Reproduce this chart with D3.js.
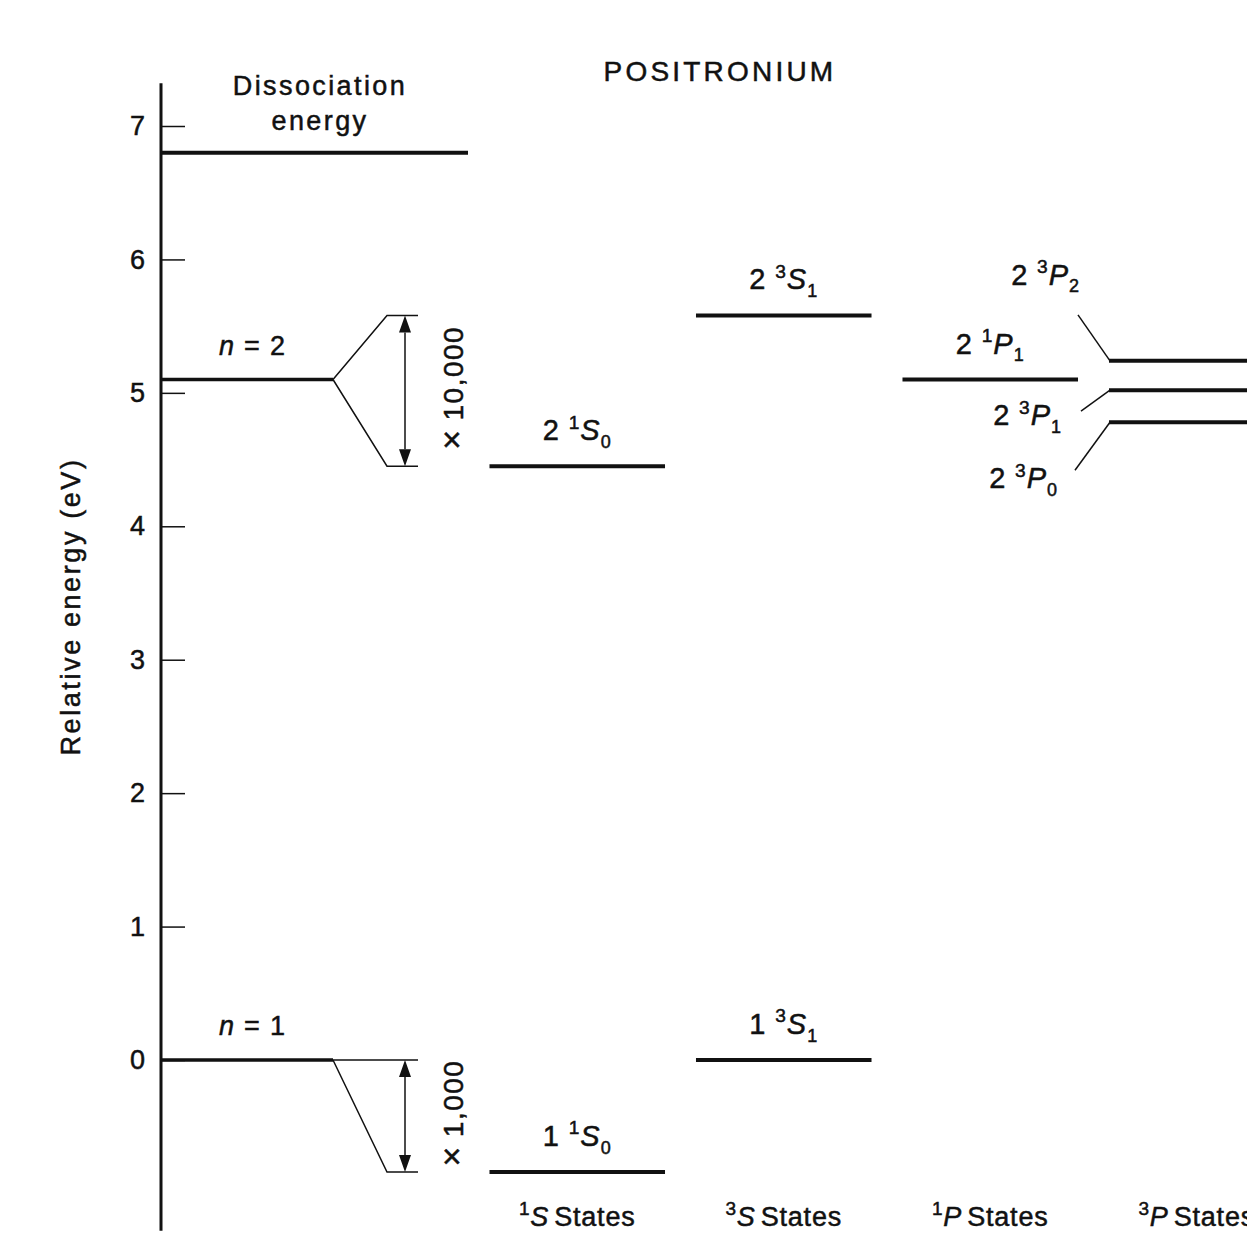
<!DOCTYPE html>
<html>
<head>
  <meta charset="utf-8">
  <style>
    body {
      margin: 0;
      background: #fff;
    }

    svg text {
      font-family: "Liberation Sans", Arial, Helvetica, sans-serif;
      fill: #111;
      stroke: #111;
      stroke-width: 0.5px;
    }

    .axis line {
      stroke: #111;
      stroke-width: 1.5px;
    }

    .axis text {
      font-size: 27px;
    }

    .level {
      stroke: #111;
      stroke-width: 4px;
    }

    .thin {
      stroke: #111;
      stroke-width: 1.5px;
      fill: none;
    }
  </style>
</head>
<body>
  <div id="chart"></div>

  <script src="https://cdn.jsdelivr.net/npm/d3@7"></script>
  <script>
    // energy axis ticks (eV)
    const energyTicks = [0, 1, 2, 3, 4, 5, 6, 7];

    // columns of states along the bottom
    const stateCols = ["1S", "3S", "1P", "3P"];
    const stateColSup = ["1", "3", "1", "3"];
    const stateColL = ["S", "S", "P", "P"];

    // individual levels, energies as drawn (splittings magnified)
    const levelN = [1, 1, 2, 2, 2, 2, 2, 2];
    const levelMult = [1, 3, 1, 3, 1, 3, 3, 3];
    const levelL = ["S", "S", "S", "S", "P", "P", "P", "P"];
    const levelJ = [0, 1, 0, 1, 1, 2, 1, 0];
    const levelEnergy = [-0.84, 0, 4.45, 5.58, 5.10, 5.24, 5.02, 4.78];

    // gross shells and their magnification of the splitting
    const shellN = [1, 2];
    const shellEnergy = [0, 5.1];
    const shellMag = ["\u00d7 1,000", "\u00d7 10,000"];

    const dissociationEnergy = 6.8;

    /// setup ...............................................
    const width = 1247, height = 1234;
    const axisX = 161;

    let svg = d3.select("#chart").append("svg")
      .attr("width", width)
      .attr("height", height);

    let y = d3.scaleLinear()
      .domain([0, 7])
      .range([1060, 126]);

    let x = d3.scaleBand()
      .domain(stateCols)
      .range([474, 1300])
      .paddingInner(0.15)
      .paddingOuter(0.075);

    // axis
    svg.append("line")
      .attr("x1", axisX).attr("x2", axisX)
      .attr("y1", y(7.32)).attr("y2", y(-1.28))
      .attr("stroke", "#111")
      .attr("stroke-width", 3);

    svg.append("g")
      .attr("class", "axis")
      .attr("transform", `translate(${axisX},0)`)
      .call(d3.axisLeft(y)
        .tickValues(energyTicks)
        .tickSize(-24)
        .tickPadding(16)
        .tickFormat(d3.format("d")))
      .call(g => g.select(".domain").remove());

    svg.append("text")
      .attr("transform", `translate(80,${(455 + 758) / 2}) rotate(-90)`)
      .attr("text-anchor", "middle")
      .style("font-size", "27px")
      .style("letter-spacing", "2.6px")
      .text("Relative energy (eV)");

    // title
    svg.append("text")
      .attr("x", 720).attr("y", 81)
      .attr("text-anchor", "middle")
      .style("font-size", "28px")
      .style("letter-spacing", "3.2px")
      .text("POSITRONIUM");

    // dissociation energy
    svg.append("line")
      .attr("class", "level")
      .attr("x1", axisX).attr("x2", 468)
      .attr("y1", y(dissociationEnergy)).attr("y2", y(dissociationEnergy));

    let dis = svg.append("text")
      .attr("text-anchor", "middle")
      .style("font-size", "27px")
      .style("letter-spacing", "2.4px");
    dis.append("tspan").attr("x", 320).attr("y", 95).text("Dissociation");
    dis.append("tspan").attr("x", 320).attr("y", 130).text("energy");

    // write "2 3S1" style term symbols into a text element
    function termLabel(sel, n, mult, L, J, fs) {
      sel.append("tspan").text(n);
      sel.append("tspan")
        .attr("dx", fs * 0.3).attr("dy", -fs * 0.4)
        .style("font-size", (fs * 0.66) + "px").text(mult);
      sel.append("tspan")
        .attr("dy", fs * 0.4)
        .style("font-style", "italic").text(L);
      sel.append("tspan")
        .attr("dy", fs * 0.26)
        .style("font-size", (fs * 0.62) + "px").text(J);
    }

    // shells with the magnified splitting
    const splitStart = 333, splitKnee = 387, splitEnd = 418, arrowX = 405;

    shellN.forEach(function (n, i) {
      let ys = y(shellEnergy[i]);
      svg.append("line")
        .attr("x1", axisX).attr("x2", splitStart)
        .attr("y1", ys).attr("y2", ys)
        .attr("stroke", "#111").attr("stroke-width", 3.5);

      let lab = svg.append("text")
        .attr("x", 252).attr("y", ys - 25)
        .attr("text-anchor", "middle")
        .style("font-size", "27px");
      lab.append("tspan").style("font-style", "italic").text("n");
      lab.append("tspan").attr("dx", 10).text("=");
      lab.append("tspan").attr("dx", 10).text(n);

      // S levels of this shell
      let ends = [];
      levelN.forEach(function (ln, j) {
        if (ln === n && levelL[j] === "S") ends.push(y(levelEnergy[j]));
      });
      ends.forEach(function (ye) {
        svg.append("path")
          .attr("class", "thin")
          .attr("d", d3.line()([[splitStart, ys], [splitKnee, ye], [splitEnd, ye]]));
      });

      let top = d3.min(ends), bot = d3.max(ends);
      let head = 17, hw = 6;
      svg.append("line")
        .attr("class", "thin")
        .attr("x1", arrowX).attr("x2", arrowX)
        .attr("y1", top + head).attr("y2", bot - head);
      svg.append("path")
        .attr("fill", "#111")
        .attr("d", `M${arrowX},${top}L${arrowX - hw},${top + head}L${arrowX + hw},${top + head}Z`
          + `M${arrowX},${bot}L${arrowX - hw},${bot - head}L${arrowX + hw},${bot - head}Z`);

      let mag = svg.append("text")
        .attr("transform", `translate(463,${(top + bot) / 2 - 3}) rotate(-90)`)
        .attr("text-anchor", "middle")
        .style("font-size", "28px")
        .style("letter-spacing", "1.5px");
      let parts = shellMag[i].split(" ");
      mag.append("tspan").style("font-size", "34px").text(parts[0]);
      mag.append("tspan").attr("dx", 8).text(parts[1]);
    });

    // placement of the crowded 3P labels: [label dx, label dy, leader dx, leader dy]
    const p3Place = {
      2: [-29, -76, -31, -46],
      1: [-47, 35, -28, 21],
      0: [-51, 66, -34, 48]
    };

    // levels
    levelEnergy.forEach(function (e, i) {
      let col = levelMult[i] + levelL[i];
      let x0 = x(col), ye = y(e);
      svg.append("line")
        .attr("class", "level")
        .attr("x1", x0).attr("x2", x0 + x.bandwidth())
        .attr("y1", ye).attr("y2", ye);

      let lab = svg.append("text")
        .style("font-size", "29px")
        .style("letter-spacing", "1px");
      if (col === "3P") {
        let p = p3Place[levelJ[i]];
        lab.attr("x", x0 + p[0]).attr("y", ye + p[1])
          .attr("text-anchor", "end");
        svg.append("line")
          .attr("class", "thin")
          .attr("x1", x0 + 1).attr("y1", ye)
          .attr("x2", x0 + p[2]).attr("y2", ye + p[3]);
      } else {
        lab.attr("x", x0 + x.bandwidth() / 2).attr("y", ye - 26)
          .attr("text-anchor", "middle");
      }
      termLabel(lab, levelN[i], levelMult[i], levelL[i], levelJ[i], 29);
    });

    // column captions
    stateCols.forEach(function (c, i) {
      let t = svg.append("text")
        .attr("x", x(c) + x.bandwidth() / 2)
        .attr("y", 1226)
        .attr("text-anchor", "middle")
        .style("font-size", "27px")
        .style("letter-spacing", "0.8px");
      t.append("tspan").attr("dy", -11).style("font-size", "19px").text(stateColSup[i]);
      t.append("tspan").attr("dy", 11).style("font-style", "italic").text(stateColL[i]);
      t.append("tspan").attr("dx", 5).text("States");
    });
  </script>
</body>
</html>
